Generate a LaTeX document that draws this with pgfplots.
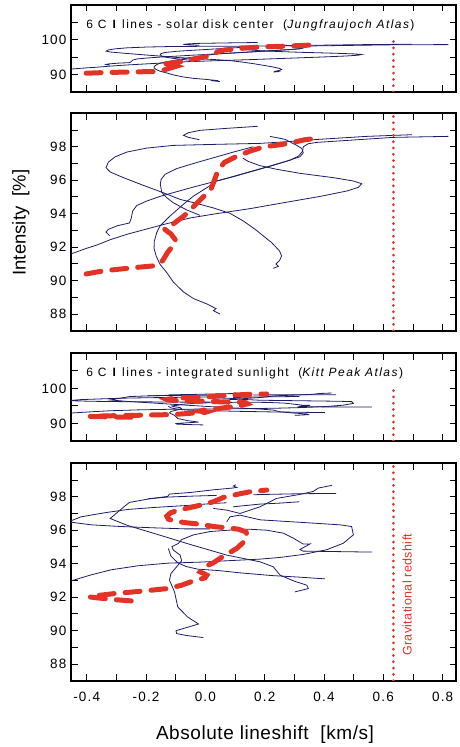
\documentclass[border=0pt]{standalone}
\usepackage{pgfplots}
\pgfplotsset{compat=1.18}
\usepackage{pgfplotstable}
\usepackage{fontspec}
\setmainfont{Liberation Sans}
\newfontfamily\tickfont{Liberation Sans}[LetterSpace=9]
\newfontfamily\titlefont{Liberation Sans}[LetterSpace=12]
\newfontfamily\labfont{Liberation Sans}[LetterSpace=3]
\definecolor{navy}{RGB}{28,28,105}
\definecolor{myred}{RGB}{228,50,38}

% ---------- disk centre (Jungfraujoch) ----------
\pgfplotstableread{
x y
0.176 99.22
0.072 99.10
-0.018 98.98
-0.057 98.84
-0.074 98.68
-0.057 98.56
-0.020 98.42
}\Cone
\pgfplotstableread{
x y
0.696 98.72
0.544 98.62
0.381 98.44
0.274 98.30
0.184 98.20
0.027 98.14
-0.108 98.08
-0.198 97.92
-0.265 97.68
-0.304 97.40
-0.327 97.08
-0.335 96.75
-0.321 96.49
-0.276 96.15
-0.209 95.69
-0.142 95.25
-0.085 94.85
-0.029 94.61
0.027 94.34
0.083 94.02
0.128 93.56
0.168 93.06
0.196 92.66
0.224 92.26
0.250 91.77
0.257 91.47
0.250 91.19
0.238 90.99
0.246 90.85
0.229 90.73
}\Ctwo
\pgfplotstableread{
x y
-0.456 91.57
-0.400 91.93
-0.366 92.12
-0.321 92.44
-0.265 92.76
-0.198 93.08
-0.130 93.40
-0.052 93.74
0.038 94.00
0.151 94.30
0.263 94.65
0.387 95.03
0.476 95.35
0.516 95.57
0.527 95.79
0.499 95.95
0.432 96.15
0.319 96.41
0.241 96.65
0.184 96.87
0.145 97.12
0.126 97.32
}\Cthree
\pgfplotstableread{
x y
-0.323 92.68
-0.335 92.90
-0.327 93.06
-0.296 93.28
-0.256 93.44
-0.250 93.72
-0.245 94.16
-0.231 94.49
-0.198 94.75
-0.153 95.03
-0.097 95.31
-0.040 95.59
0.016 95.85
0.072 96.11
0.139 96.45
0.207 96.79
0.274 97.14
0.319 97.40
0.330 97.64
0.325 97.90
0.308 98.08
0.269 98.44
0.218 98.62
}\Cfour
\pgfplotstableread{
x y
0.049 88.00
0.027 88.20
0.036 88.32
0.005 88.60
-0.040 88.92
-0.074 89.32
-0.108 89.91
-0.130 90.47
-0.153 90.97
-0.166 91.47
-0.173 91.93
-0.172 92.36
-0.164 92.86
-0.153 93.26
-0.119 93.86
-0.074 94.56
-0.040 95.05
0.005 95.55
0.038 95.95
0.094 96.21
0.162 96.55
0.229 96.89
0.286 97.20
0.314 97.44
0.328 97.74
0.330 98.00
0.347 98.18
0.376 98.26
0.634 98.56
0.819 98.62
}\Cfive
\pgfplotstableread{
x y
0.162 98.00
0.094 97.68
0.027 97.34
-0.040 97.00
-0.097 96.69
-0.136 96.35
-0.149 96.05
-0.152 95.77
-0.147 95.27
-0.130 94.95
-0.108 94.65
-0.063 94.22
-0.018 93.90
}\Csix
\pgfplotstableread{
x y
-0.402 90.39
-0.340 90.59
-0.228 90.79
-0.166 90.89
-0.144 91.19
-0.127 91.69
-0.116 91.93
-0.099 92.38
-0.116 92.78
-0.138 93.08
-0.116 93.28
-0.071 93.88
-0.037 94.47
-0.003 95.07
0.019 95.47
0.030 95.97
0.042 96.57
0.064 97.06
0.109 97.46
0.154 97.76
0.199 98.00
0.252 98.12
0.286 98.22
0.336 98.42
0.364 98.48
}\Cmean

% ---------- integrated sunlight (Kitt Peak) ----------
\pgfplotstableread{
x y
0.103 98.72
0.094 98.64
0.106 98.56
0.092 98.52
0.030 98.42
-0.048 98.26
-0.121 98.16
-0.127 98.02
-0.194 97.86
-0.256 97.66
-0.273 97.42
-0.321 96.70
-0.265 96.30
-0.153 95.70
-0.063 95.21
0.072 94.51
0.184 94.11
0.229 93.81
0.252 93.31
0.297 92.97
0.342 92.71
0.347 92.51
0.302 92.31
}\Done
\pgfplotstableread{
x y
0.038 98.08
-0.040 98.04
-0.127 97.98
-0.194 97.88
}\Dten
\pgfplotstableread{
x y
0.072 97.64
0.027 97.60
-0.060 97.48
-0.172 97.36
-0.262 97.24
-0.340 97.04
-0.419 96.80
-0.462 96.50
-0.385 96.32
-0.284 96.22
-0.172 96.14
-0.071 96.08
0.016 96.08
}\Dtwo
\pgfplotstableread{
x y
-0.467 92.89
-0.385 93.33
-0.318 93.63
-0.228 93.87
-0.127 94.03
-0.018 94.09
0.094 94.19
0.184 94.27
0.252 94.37
0.330 94.55
0.409 94.83
0.465 95.22
0.499 95.72
0.493 96.22
0.454 96.32
0.330 96.46
0.184 96.62
0.117 96.90
0.083 96.80
0.072 96.50
}\Dfour
\pgfplotstableread{
x y
-0.007 89.58
-0.063 89.70
-0.097 89.82
-0.099 89.99
-0.023 90.39
-0.060 90.81
-0.093 91.41
-0.104 92.31
-0.121 93.01
-0.116 93.41
-0.097 93.81
-0.080 94.17
-0.085 94.51
-0.108 94.81
-0.113 95.01
-0.091 95.21
-0.080 95.44
-0.040 95.72
0.016 95.92
0.094 96.02
0.145 96.06
0.207 96.00
0.263 95.82
0.297 95.52
0.330 95.17
0.353 95.18
0.319 94.85
0.328 94.75
0.561 94.69
}\Dfive
\pgfplotstableread{
x y
-0.125 94.91
-0.116 94.45
-0.093 94.05
-0.065 93.83
-0.026 93.67
0.042 93.59
0.117 93.45
0.221 93.29
0.319 93.19
0.403 93.09
}\Dseven
\pgfplotstableread{
x y
0.027 97.30
0.072 97.20
0.117 97.00
0.184 97.40
0.240 97.90
0.319 98.14
0.364 98.32
0.381 98.52
0.426 98.68
}\Dnine
\pgfplotstableread{
x y
0.162 98.12
0.207 98.14
0.319 98.18
0.441 98.20
}\Deleven
\pgfplotstableread{
x y
0.094 97.40
0.184 97.56
0.252 97.62
0.317 97.70
}\Dtwelve
\pgfplotstableread{
x y
-0.250 91.77
-0.307 91.85
-0.363 91.95
-0.391 92.01
-0.355 92.11
-0.307 92.21
-0.217 92.35
-0.127 92.51
-0.080 92.71
-0.040 92.97
-0.001 93.15
0.005 93.31
-0.018 93.51
-0.007 93.77
0.027 94.05
0.061 94.45
0.106 94.91
0.126 95.24
0.142 95.60
0.137 95.90
0.111 96.06
0.083 96.12
0.027 96.22
-0.018 96.36
-0.063 96.44
-0.102 96.54
-0.125 96.66
-0.130 96.84
-0.117 97.04
-0.091 97.20
-0.040 97.40
-0.007 97.54
0.027 97.70
0.061 97.96
0.117 98.18
0.151 98.30
0.207 98.40
}\Dmean

\pgfplotsset{
  panel/.style={scale only axis, width=385pt, xmin=-0.453, xmax=0.845,
    anchor=south west,
    axis line style={line width=1.8pt},
    tick style={line width=0.9pt, black},
    major tick length=6.5pt, tick align=inside,
    xtick={-0.4,-0.3,-0.2,-0.1,0,0.1,0.2,0.3,0.4,0.5,0.6,0.7,0.8},
    tick label style={font=\tickfont\fontsize{13.5}{15}\selectfont},
    yticklabel style={xshift=-1pt}},
  small/.style={panel, height=87pt, ymin=85, ymax=110,
    ytick={90,95,100,105}, yticklabels={90,,100,}},
  big/.style={panel, height=217.4pt, ymin=87, ymax=100,
    ytick={88,89,...,99}, yticklabels={88,,90,,92,,94,,96,,98,}},
  bl/.style={navy, line width=0.8pt, no markers},
  rd/.style={myred, line width=5pt, dash pattern=on 15pt off 11pt, line cap=round, no markers},
  gr/.style={myred, line width=3pt, dash pattern=on 0pt off 6.3pt, line cap=round, no markers},
}

\begin{document}
\begin{tikzpicture}
\useasboundingbox (0pt,0pt) rectangle (459pt,747pt);

% Panel 1
\begin{axis}[small, at={(71pt,655pt)}, xticklabels={}]
\addplot[bl] table {\Cone};
\addplot[bl] table {\Ctwo};
\addplot[bl] table {\Cthree};
\addplot[bl] table {\Cfour};
\addplot[bl] table {\Cfive};
\addplot[bl] table {\Csix};
\addplot[rd] table {\Cmean};
\addplot[gr] coordinates {(0.634,85) (0.634,100)};
\node[anchor=base west, font=\titlefont\fontsize{12}{14}\selectfont, inner sep=0pt]
  at (axis cs:-0.402,103.34) {6 C \textbf{I} lines - solar disk center\ \ (\textit{Jungfraujoch Atlas})};
\end{axis}

% Panel 2
\begin{axis}[big, at={(71pt,416.3pt)}, xticklabels={}]
\addplot[bl] table {\Cone};
\addplot[bl] table {\Ctwo};
\addplot[bl] table {\Cthree};
\addplot[bl] table {\Cfour};
\addplot[bl] table {\Cfive};
\addplot[bl] table {\Csix};
\addplot[rd] table {\Cmean};
\addplot[gr] coordinates {(0.634,87) (0.634,100)};
\end{axis}

% Panel 3
\begin{axis}[small, at={(71pt,306pt)}, height=87.7pt, xticklabels={}]
\addplot[bl] table {\Done};
\addplot[bl] table {\Dten};
\addplot[bl] table {\Dtwo};
\addplot[bl] table {\Dfour};
\addplot[bl] table {\Dfive};
\addplot[bl] table {\Dseven};
\addplot[bl] table {\Dnine};
\addplot[bl] table {\Deleven};
\addplot[bl] table {\Dtwelve};
\addplot[rd] table {\Dmean};
\addplot[gr] coordinates {(0.634,85) (0.634,100)};
\node[anchor=base west, font=\titlefont\fontsize{12}{14}\selectfont, inner sep=0pt]
  at (axis cs:-0.402,103.4) {6 C \textbf{I} lines - integrated sunlight\ \ (\textit{Kitt Peak Atlas})};
\end{axis}

% Panel 4
\begin{axis}[big, at={(71pt,66.3pt)},
  xticklabels={-0.4,,-0.2,,0.0,,0.2,,0.4,,0.6,,0.8},
  xticklabel style={yshift=-8pt}]
\addplot[bl] table {\Done};
\addplot[bl] table {\Dten};
\addplot[bl] table {\Dtwo};
\addplot[bl] table {\Dfour};
\addplot[bl] table {\Dfive};
\addplot[bl] table {\Dseven};
\addplot[bl] table {\Dnine};
\addplot[bl] table {\Deleven};
\addplot[bl] table {\Dtwelve};
\addplot[rd] table {\Dmean};
\addplot[gr] coordinates {(0.634,87) (0.634,100)};
\end{axis}

\node[rotate=90, anchor=base, font=\labfont\fontsize{12.5}{14}\selectfont, text=myred, inner sep=0pt]
  at (411.5pt,152.3pt) {Gravitational redshift};
\node[anchor=base, font=\labfont\fontsize{19}{22}\selectfont, inner sep=0pt]
  at (265pt,7pt) {Absolute lineshift\ \ [km/s]};
\node[rotate=90, anchor=base, font=\fontsize{18.5}{22}\selectfont, inner sep=0pt]
  at (25.5pt,524.5pt) {Intensity\ \ [\%]};
\end{tikzpicture}
\end{document}
